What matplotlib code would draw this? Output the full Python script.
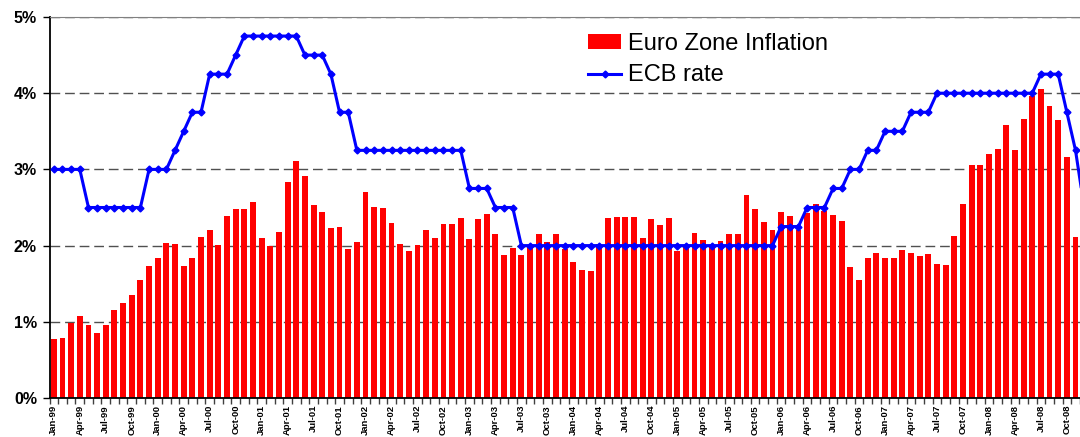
import numpy as np
import pandas as pd
import matplotlib
matplotlib.use('Agg')
import matplotlib.pyplot as plt

months = pd.period_range('1999-01', '2008-12', freq='M')
month_labels = [m.strftime('%b-%y') for m in months]

# Euro zone inflation, % (Jan-99 .. Nov-08)
inflation = [
    0.77, 0.79, 0.99, 1.08, 0.96, 0.85, 0.96, 1.16, 1.25, 1.35, 1.55, 1.73,
    1.84, 2.03, 2.02, 1.73, 1.84, 2.11, 2.20, 2.01, 2.39, 2.48, 2.48, 2.57,
    2.10, 1.99, 2.18, 2.83, 3.11, 2.91, 2.53, 2.44, 2.23, 2.24, 1.96, 2.05,
    2.70, 2.51, 2.49, 2.30, 2.02, 1.93, 2.01, 2.20, 2.10, 2.28, 2.28, 2.36,
    2.09, 2.35, 2.42, 2.15, 1.88, 1.97, 1.88, 1.98, 2.15, 2.05, 2.15, 1.96,
    1.79, 1.68, 1.67, 2.02, 2.36, 2.37, 2.37, 2.37, 2.10, 2.35, 2.27, 2.36,
    1.93, 2.00, 2.16, 2.07, 2.01, 2.06, 2.15, 2.15, 2.66, 2.48, 2.31, 2.20,
    2.44, 2.39, 2.20, 2.43, 2.54, 2.45, 2.40, 2.32, 1.72, 1.55, 1.84, 1.90,
    1.84, 1.84, 1.94, 1.90, 1.86, 1.89, 1.76, 1.74, 2.12, 2.54, 3.06, 3.06,
    3.20, 3.27, 3.58, 3.26, 3.66, 3.96, 4.05, 3.83, 3.65, 3.16, 2.11,
]

# ECB main refinancing rate, % (Jan-99 .. Dec-08)
ecb_rate = [
    3.0, 3.0, 3.0, 3.0, 2.5, 2.5, 2.5, 2.5, 2.5, 2.5, 2.5, 3.0,
    3.0, 3.0, 3.25, 3.5, 3.75, 3.75, 4.25, 4.25, 4.25, 4.5, 4.75, 4.75,
    4.75, 4.75, 4.75, 4.75, 4.75, 4.5, 4.5, 4.5, 4.25, 3.75, 3.75, 3.25,
    3.25, 3.25, 3.25, 3.25, 3.25, 3.25, 3.25, 3.25, 3.25, 3.25, 3.25, 3.25,
    2.75, 2.75, 2.75, 2.5, 2.5, 2.5, 2.0, 2.0, 2.0, 2.0, 2.0, 2.0,
    2.0, 2.0, 2.0, 2.0, 2.0, 2.0, 2.0, 2.0, 2.0, 2.0, 2.0, 2.0,
    2.0, 2.0, 2.0, 2.0, 2.0, 2.0, 2.0, 2.0, 2.0, 2.0, 2.0, 2.0,
    2.25, 2.25, 2.25, 2.5, 2.5, 2.5, 2.75, 2.75, 3.0, 3.0, 3.25, 3.25,
    3.5, 3.5, 3.5, 3.75, 3.75, 3.75, 4.0, 4.0, 4.0, 4.0, 4.0, 4.0,
    4.0, 4.0, 4.0, 4.0, 4.0, 4.0, 4.25, 4.25, 4.25, 3.75, 3.25, 2.5,
]

y_ticks = [0, 1, 2, 3, 4, 5]

plt.rcParams['font.family'] = ['Liberation Sans', 'DejaVu Sans']

fig = plt.figure(figsize=(10.8, 4.37), dpi=100)
# plot area runs a little past the right edge, as in the cropped original
ax = fig.add_axes([49.5 / 1080, 39 / 437, 1039 / 1080, 381 / 437])

x = np.arange(len(months))
bars = ax.bar(x[:len(inflation)], inflation, width=0.68, color='#ff0000', zorder=2)
line, = ax.plot(x, ecb_rate, color='#0000ff', lw=2.2, marker='D', ms=3.5, zorder=3)

ax.set_xlim(-0.5, len(months) - 0.5)
ax.set_ylim(0, 5)

ax.set_yticks(y_ticks)
ax.set_yticklabels([f'{v}%' for v in y_ticks], fontsize=11.5, fontweight='bold')
ax.yaxis.grid(True, ls=(0, (7, 3.5)), color='#505050', lw=1)
ax.set_axisbelow(True)
ax.tick_params(axis='y', length=5, width=1, pad=4)

ax.set_xticks(x[::3])
ax.set_xticklabels(month_labels[::3], rotation=90, fontsize=6.8, fontweight='bold')
ax.set_xticks(np.arange(-0.5, len(months), 1), minor=True)
ax.tick_params(axis='x', which='major', length=0, pad=5)
ax.tick_params(axis='x', which='minor', length=4, width=1, color='#404040')

ax.spines['right'].set_visible(False)
ax.spines['top'].set_color('#808080')
ax.spines['left'].set_linewidth(1.3)
ax.spines['bottom'].set_linewidth(1.3)

ax.legend([bars, line], ['Euro Zone Inflation', 'ECB rate'],
          loc='upper left', bbox_to_anchor=(588 / 1080, 1 - 33 / 437),
          bbox_transform=fig.transFigure, frameon=False, fontsize=17,
          handlelength=1.4, handleheight=0.6, handletextpad=0.3,
          labelspacing=0.4, borderpad=0, borderaxespad=0)

fig.savefig('out.png', dpi=100)
